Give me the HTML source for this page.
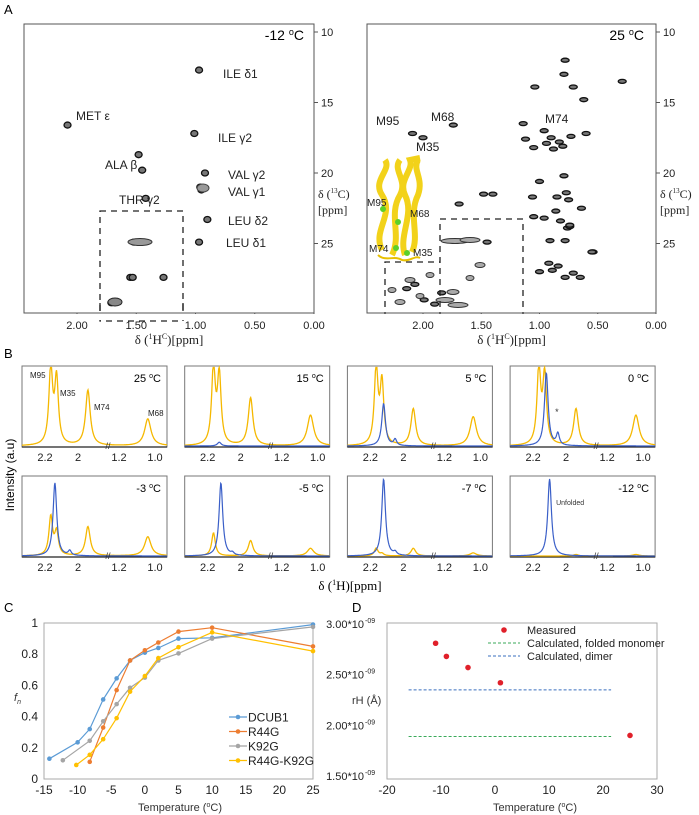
<!DOCTYPE html>
<html><head><meta charset="utf-8"><style>
html,body{margin:0;padding:0;background:#fff;}
svg{display:block;font-family:"Liberation Sans",sans-serif;}
.serif{font-family:"Liberation Serif",serif;}
</style></head><body>
<svg id="fig" width="699" height="815" viewBox="0 0 699 815" xmlns="http://www.w3.org/2000/svg">
<text x="4" y="14" font-size="13">A</text>
<text x="4" y="358" font-size="13">B</text>
<text x="4" y="612" font-size="13">C</text>
<text x="352" y="612" font-size="13">D</text>
<g id="pa"></g>
<g id="pb"></g>
<g id="pc"></g>
<g id="pd"></g>
</svg>
<script>
const NS="http://www.w3.org/2000/svg";
function mk(parent,tag,attrs,txt){const e=document.createElementNS(NS,tag);for(const k in attrs)e.setAttribute(k,attrs[k]);if(txt!==undefined)e.textContent=txt;parent.appendChild(e);return e;}

// ===== Panel A data =====
const aXTicks=[2.00,1.50,1.00,0.50,0.00];
const aYTicks=[10,15,20,25];
const coldPeaksH=[0.97,2.08,1.01,1.48,1.45,0.92,0.95,0.96,1.42,0.9,0.97,1.52,1.55,1.53,1.27,1.71];
const coldPeaksC=[12.7,16.6,17.2,18.7,19.8,20.0,21.2,21.0,21.8,23.3,24.9,24.9,27.4,27.4,27.4,29.2];
const warmPeaksH=[0.78,0.79,0.71,1.04,0.29,0.62,1.14,0.96,0.73,0.94,0.80,1.12,0.90,0.60,0.83,0.88,2.09,2.00,1.74,1.05,0.79,1.00,0.85,1.06,0.77,0.75,0.86,1.05,0.76,0.82,1.69,1.48,1.40,0.64,0.74,0.74,0.96,0.78,1.45,0.91,0.54,0.55,0.84,0.71,0.89,0.78,0.92,1.00,0.65,2.14,2.07,1.84,1.99,1.90];
const warmPeaksC=[12.0,13.0,13.9,13.9,13.5,14.8,16.5,17.0,17.4,17.9,18.1,17.6,17.5,17.2,17.8,18.3,17.2,17.5,16.6,18.2,20.2,20.6,21.7,21.7,21.4,21.9,22.7,23.1,23.9,23.4,22.2,21.5,21.5,22.5,23.8,23.7,23.2,24.8,24.9,24.8,25.6,25.6,26.6,27.1,26.9,27.4,26.4,27.0,27.4,28.2,27.9,28.5,29.0,29.3];

function panelA(g,x0,x1,coldMode){
  const top=24,bot=313;
  const xs=p=>x1-(p/2.0)*(x1-(coldMode?77:423));
  const ys=c=>32+(c-10)*14.1;
  mk(g,'rect',{x:x0,y:top,width:x1-x0,height:bot-top,fill:'none',stroke:'#555','stroke-width':1});
  aXTicks.forEach(t=>{const x=xs(t);
    mk(g,'line',{x1:x,x2:x,y1:bot,y2:bot+3,stroke:'#555'});
    const e=mk(g,'text',{x:x,y:bot+16,'font-size':11,'text-anchor':'middle',fill:'#222'},t.toFixed(2));
    });
  aYTicks.forEach(t=>{const y=ys(t);
    mk(g,'line',{x1:x1,x2:x1+4,y1:y,y2:y,stroke:'#555'});
    const e=mk(g,'text',{x:x1+7,y:y+4,'font-size':11,fill:'#222'},t);
    });
  const cx=(x0+x1)/2;
  const xt=mk(g,'text',{x:cx,y:bot+31,'font-size':13,'text-anchor':'middle',class:'serif',fill:'#222'});
  xt.innerHTML='δ (<tspan font-size="8" dy="-5">1</tspan><tspan dy="5">H</tspan><tspan font-size="8" dy="-5">C</tspan><tspan dy="5">)[ppm]</tspan>';
  
  const yt=mk(g,'text',{x:x1+4,y:198,'font-size':12,class:'serif',fill:'#222'});
  yt.innerHTML='δ (<tspan font-size="7" dy="-5">13</tspan><tspan dy="5">C)</tspan>';
  
  mk(g,'text',{x:x1+4,y:214,'font-size':12,class:'serif',fill:'#222'},'[ppm]');
  const H=coldMode?coldPeaksH:warmPeaksH, C=coldMode?coldPeaksC:warmPeaksC;
  H.forEach((h,i)=>{const e=mk(g,'ellipse',{cx:xs(h),cy:ys(C[i]),rx:coldMode?3.5:4,ry:coldMode?3:2,fill:'#777',stroke:'#111','stroke-width':1.3});
    });
  return {xs,ys};
}
const ga=document.getElementById('pa');
const L=panelA(ga,24,314,true);
mk(ga,'ellipse',{cx:140,cy:242,rx:12,ry:3.5,fill:'#999',stroke:'#333'});
mk(ga,'ellipse',{cx:115,cy:302,rx:7,ry:4,fill:'#888',stroke:'#222'});
mk(ga,'ellipse',{cx:203,cy:188,rx:6,ry:4,fill:'#999',stroke:'#444'});
mk(ga,'rect',{x:100,y:211,width:83,height:110,fill:'none',stroke:'#222','stroke-width':1.3,'stroke-dasharray':'6,5'});
mk(ga,'rect',{x:0,y:314,width:330,height:6,fill:'#fff'});
mk(ga,'line',{x1:24,x2:314,y1:313,y2:313,stroke:'#555'});
[[100,'I'],[183,'I']].forEach(a=>mk(ga,'line',{x1:a[0],x2:a[0],y1:303,y2:311,stroke:'#222','stroke-width':1.3}));
const t12=mk(ga,'text',{x:304,y:40,'font-size':14,'text-anchor':'end'});t12.innerHTML='-12 <tspan font-size="9" dy="-5">o</tspan><tspan dy="5">C</tspan>';

[['ILE δ1',223,78],['MET ε',76,120],['ILE γ2',218,142],['ALA β',105,169],['VAL γ2',228,179],['VAL γ1',228,196],['THR γ2',119,204],['LEU δ2',228,225],['LEU δ1',226,247]].forEach(l=>{
  const e=mk(ga,'text',{x:l[1],y:l[2],'font-size':12,fill:'#222'},l[0]);});

const gw=document.createElementNS(NS,'g');ga.appendChild(gw);
panelA(gw,367,656,false);
[[455,241,14],[470,240,10],[445,300,9],[458,305,10],[453,292,6],[400,302,5],[410,280,5],[430,275,4],[392,290,4],[420,296,4],[470,278,4],[480,265,5]].forEach(b=>mk(gw,'ellipse',{cx:b[0],cy:b[1],rx:b[2],ry:2.5,fill:'#aaa',stroke:'#333','stroke-width':1}));
mk(gw,'path',{d:'M440,318 V219 H523 V318 M385,318 V262 H440',fill:'none',stroke:'#222','stroke-width':1.3,'stroke-dasharray':'6,5'});
mk(gw,'rect',{x:360,y:314,width:300,height:6,fill:'#fff'});
mk(gw,'line',{x1:367,x2:656,y1:313,y2:313,stroke:'#555'});
const prot=mk(gw,'g',{});
['M382,250 C372,230 395,215 382,195 C372,180 392,170 385,160','M392,255 C402,235 388,215 400,195 C408,180 392,170 400,160','M405,255 C398,235 415,215 405,195 C398,180 414,170 410,160 L420,158','M412,252 C420,235 408,215 418,195 C424,178 412,170 418,160'].forEach(d=>mk(prot,'path',{d:d,fill:'none',stroke:'#f2d21a','stroke-width':6}));
mk(prot,'path',{d:'M378,255 C385,262 395,255 402,260 C410,262 415,255 420,258',fill:'none',stroke:'#e8c000','stroke-width':2});
[[383,209],[398,222],[396,248],[407,253]].forEach(p=>mk(prot,'circle',{cx:p[0],cy:p[1],r:3,fill:'#5cd02a'}));
const t25=mk(gw,'text',{x:644,y:40,'font-size':14,'text-anchor':'end'});t25.innerHTML='25 <tspan font-size="9" dy="-5">o</tspan><tspan dy="5">C</tspan>';
[['M95',376,125,12],['M68',431,121,12],['M35',416,151,12],['M74',545,123,12],['M95',367,206,10],['M68',410,217,10],['M74',369,252,10],['M35',413,256,10]].forEach(l=>{
  const e=mk(gw,'text',{x:l[1],y:l[2],'font-size':l[3],fill:'#222'},l[0]);});

// ===== Panel B data =====
const bTemps=['25','15','5','0','-3','-5','-7','-12'];
const bM95=[1.0,1.0,1.0,1.0,0.5,0.3,0.1,0.0];
const bM35=[0.85,0.9,0.8,0.9,0.3,0.0,0.03,0.0];
const bM74=[0.72,0.62,0.48,0.48,0.38,0.2,0.1,0.02];
const bM68=[0.35,0.4,0.38,0.4,0.25,0.1,0.04,0.02];
const bBlue=[0.0,0.05,0.55,0.95,0.95,0.95,1.0,1.0];
const bBluePos=[2.13,2.13,2.12,2.12,2.14,2.12,2.12,2.10];
const bBlueShoulder=[0,0,0.08,0.15,0.06,0.03,0.04,0.0];
const bTickLabels=['2.2','2','1.2','1.0'];
const bTickPos=[2.2,2.0,1.2,1.0];
const yPos={M95:2.165,M35:2.13,M74:1.94,M68:1.04};
const gb=document.getElementById('pb');
function bx(p){return p>1.5?23+(2.2-p)*165:97+(1.2-p)*180;}
bTemps.forEach((t,i)=>{
  const col=i%4,row=Math.floor(i/4);
  const x0=22+col*162.7,w=145,top=row?476:366,bot=row?557:447,H=77;
  const g=mk(gb,'g',{transform:`translate(${x0},0)`});
  
  mk(g,'rect',{x:0,y:top,width:w,height:bot-top,fill:'none',stroke:'#777'});
  mk(g,'line',{x1:0,x2:w,y1:bot,y2:bot,stroke:'#222','stroke-width':1.3});
  function curve(peaks){let d='';for(let x=0;x<=w;x+=0.5){let v=0;peaks.forEach(p=>{const dx=x-p[0];v+=p[1]*p[2]*p[2]/(dx*dx+p[2]*p[2]);});v=Math.min(v,1.02);d+=(x?'L':'M')+x.toFixed(1)+','+(bot-1-v*H).toFixed(1);}return d;}
  const yel=[[bx(yPos.M95),bM95[i],2.2],[bx(yPos.M35),bM35[i],2.2],[bx(yPos.M74),bM74[i],2.8],[bx(yPos.M68),bM68[i],3.8]];
  const yp=mk(g,'path',{d:curve(yel),fill:'none',stroke:'#f5b800','stroke-width':1.3});
  
  if(bBlue[i]>0){const bp=mk(g,'path',{d:curve([[bx(bBluePos[i]),bBlue[i],2.2],[bx(2.05),bBlueShoulder[i],1.8]]),fill:'none',stroke:'#3a5fc8','stroke-width':1.2});
    }
  mk(g,'text',{x:86,y:bot+2,'font-size':9,'text-anchor':'middle',fill:'#333'},'//');
  bTickPos.forEach((p,k)=>{const e=mk(g,'text',{x:bx(p),y:bot+14,'font-size':11,'text-anchor':'middle',fill:'#222'},bTickLabels[k]);});
  const tl=mk(g,'text',{x:w-6,y:top+16,'font-size':11,'text-anchor':'end'});tl.innerHTML=t+' <tspan font-size="7" dy="-4">o</tspan><tspan dy="4">C</tspan>';
  
  if(i===0){[['M95',8,378],['M35',38,396],['M74',72,410],['M68',126,416]].forEach(l=>mk(g,'text',{x:l[1],y:l[2],'font-size':8,fill:'#222'},l[0]));}
  if(i===3){mk(g,'text',{x:bx(2.05)-1,y:bot-32,'font-size':9,fill:'#333','text-anchor':'middle'},'*');}
  if(i===7){mk(g,'text',{x:46,y:top+29,'font-size':7,fill:'#333'},'Unfolded');}
});
const il=mk(gb,'text',{x:14,y:475,'font-size':12,'text-anchor':'middle',transform:'rotate(-90 14 475)'},'Intensity (a.u)');

const bxl=mk(gb,'text',{x:350,y:590,'font-size':13,'text-anchor':'middle',class:'serif'});
bxl.innerHTML='δ (<tspan font-size="8" dy="-5">1</tspan><tspan dy="5">H)[ppm]</tspan>';


// ===== Panel C data =====
const cSeriesNames=['DCUB1','R44G','K92G','R44G-K92G'];
const cColors=['#5b9bd5','#ed7d31','#a5a5a5','#ffc000'];
const cT_DCUB1=[-14.2,-10,-8.2,-6.2,-4.2,-2.2,0,2,5,10,25];
const cF_DCUB1=[0.13,0.235,0.32,0.51,0.645,0.76,0.81,0.84,0.90,0.905,0.99];
const cT_R44G=[-8.2,-6.2,-4.2,-2.2,0,2,5,10,25];
const cF_R44G=[0.11,0.33,0.57,0.76,0.825,0.875,0.945,0.97,0.85];
const cT_K92G=[-12.2,-8.2,-6.2,-4.2,-2.2,0,2,5,10,25];
const cF_K92G=[0.12,0.245,0.37,0.48,0.585,0.65,0.76,0.805,0.90,0.975];
const cT_RK=[-10.2,-8.2,-6.2,-4.2,-2.2,0,2,5,10,25];
const cF_RK=[0.09,0.155,0.255,0.39,0.56,0.66,0.775,0.845,0.94,0.82];
const cXTicks=[-15,-10,-5,0,5,10,15,20,25];
const cYTicks=[0,0.2,0.4,0.6,0.8,1];
const gc=document.getElementById('pc');
const cx=t=>44+(t+15)*(313-44)/40, cy=v=>779-v*156;
mk(gc,'rect',{x:44,y:623,width:269,height:156,fill:'none',stroke:'#aaa'});
cXTicks.forEach(t=>{const e=mk(gc,'text',{x:cx(t),y:794,'font-size':12,'text-anchor':'middle',fill:'#222'},t);});
cYTicks.forEach(t=>{const e=mk(gc,'text',{x:38,y:cy(t)+4,'font-size':12,'text-anchor':'end',fill:'#222'},String(t));});
const cx_t=mk(gc,'text',{x:180,y:811,'font-size':11,'text-anchor':'middle',fill:'#333'});cx_t.innerHTML='Temperature (<tspan font-size="7" dy="-4">o</tspan><tspan dy="4">C)</tspan>';

const fn=mk(gc,'text',{x:14,y:701,'font-size':11,'font-style':'italic',fill:'#333'});fn.innerHTML='f<tspan font-size="7" dy="3">n</tspan>';

[[cT_DCUB1,cF_DCUB1],[cT_R44G,cF_R44G],[cT_K92G,cF_K92G],[cT_RK,cF_RK]].forEach((s,k)=>{
  const d=s[0].map((t,i)=>(i?'L':'M')+cx(t).toFixed(1)+','+cy(s[1][i]).toFixed(1)).join('');
  const ln=mk(gc,'path',{d:d,fill:'none',stroke:cColors[k],'stroke-width':1.2});
  
  s[0].forEach((t,i)=>{const p=mk(gc,'circle',{cx:cx(t),cy:cy(s[1][i]),r:2.3,fill:cColors[k]});
    });
  const ly=717+k*14.5;
  const lg=mk(gc,'g',{});
  mk(lg,'line',{x1:229,x2:247,y1:ly,y2:ly,stroke:cColors[k],'stroke-width':1.2});
  mk(lg,'circle',{cx:238,cy:ly,r:2.3,fill:cColors[k]});
  mk(lg,'text',{x:248,y:ly+4.5,'font-size':12,fill:'#222'},cSeriesNames[k]);
});

// ===== Panel D data =====
const dT=[-11,-9,-5,1,25];
const dRh=[2.81,2.68,2.57,2.42,1.90];
const dDimer=2.35, dMonomer=1.89;
const dLineRange=[-16,21.5];
const dXTicks=[-20,-10,0,10,20,30];
const dYTicks=[3.0,2.5,2.0,1.5];
const dYLabels=['3.00*10','2.50*10','2.00*10','1.50*10'];
const gd=document.getElementById('pd');
const dx=t=>387+(t+20)*5.4, dy=v=>624+(3.0-v)*101.3;
mk(gd,'rect',{x:387,y:623,width:270,height:156,fill:'none',stroke:'#aaa'});
dXTicks.forEach(t=>{const e=mk(gd,'text',{x:dx(t),y:794,'font-size':12,'text-anchor':'middle',fill:'#222'},t);});
dYTicks.forEach((t,i)=>{const e=mk(gd,'text',{x:364,y:dy(t)+4,'font-size':11,'text-anchor':'end',fill:'#222'},dYLabels[i]);
  
  mk(gd,'text',{x:365,y:dy(t)-1,'font-size':7,fill:'#222'},'-09');});
const dxt=mk(gd,'text',{x:535,y:811,'font-size':11,'text-anchor':'middle',fill:'#333'});dxt.innerHTML='Temperature (<tspan font-size="7" dy="-4">o</tspan><tspan dy="4">C)</tspan>';

const rh=mk(gd,'text',{x:352,y:704,'font-size':11,fill:'#333'},'rH (Å)');
const dm=mk(gd,'line',{x1:dx(dLineRange[0]),x2:dx(dLineRange[1]),y1:dy(dDimer),y2:dy(dDimer),stroke:'#3a6fbf','stroke-dasharray':'3,2'});

const mo=mk(gd,'line',{x1:dx(dLineRange[0]),x2:dx(dLineRange[1]),y1:dy(dMonomer),y2:dy(dMonomer),stroke:'#3aaa5a','stroke-dasharray':'3,2'});

dT.forEach((t,i)=>{const p=mk(gd,'circle',{cx:dx(t),cy:dy(dRh[i]),r:2.8,fill:'#e0202a'});
  });
const dl=mk(gd,'g',{});
mk(dl,'circle',{cx:504,cy:630,r:2.8,fill:'#e0202a'});
mk(dl,'text',{x:527,y:634,'font-size':11,fill:'#222'},'Measured');
mk(dl,'line',{x1:488,x2:520,y1:643,y2:643,stroke:'#3aaa5a','stroke-dasharray':'3,2'});
mk(dl,'text',{x:527,y:647,'font-size':11,fill:'#222'},'Calculated, folded monomer');
mk(dl,'line',{x1:488,x2:520,y1:656,y2:656,stroke:'#3a6fbf','stroke-dasharray':'3,2'});
mk(dl,'text',{x:527,y:660,'font-size':11,fill:'#222'},'Calculated, dimer');
</script>
</body></html>
